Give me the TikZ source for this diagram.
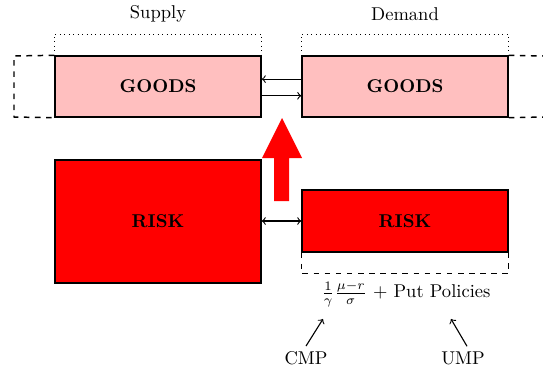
\documentclass[tikz,border=0pt]{standalone}
\usetikzlibrary{calc}
\begin{document}
\begin{tikzpicture}[x=0.54pt,y=-0.54pt,
  goodsbox/.style={draw=black,thick,fill=red!25,minimum width={206*0.54pt},minimum height={61*0.54pt},inner sep=0pt,font=\bfseries},
  riskbox/.style={draw=black,thick,fill=red,inner sep=0pt,font=\bfseries},
  lbl/.style={inner sep=1pt},
  conn/.style={->,semithick}]
\useasboundingbox (0,0) rectangle (543,372);
% top boxes
\node[goodsbox] (gs) at (158,86.5) {GOODS};
\node[goodsbox] (gd) at (405,86.5) {GOODS};
\node[lbl] (sup) at (158,14) {Supply};
\node[lbl] (dem) at (405,14) {Demand};
\draw[dotted] (gs.north west) -- ++(0,-21) -| (gs.north east);
\draw[dotted] (gd.north west) -- ++(0,-21) -| (gd.north east);
\draw[dashed,thick] (gs.north west) -- (14,56) -- (14,117) -- (gs.south west);
\draw[dashed,thick] (gd.north east) -- (543,56);
\draw[dashed,thick] (gd.south east) -- (543,117);
\draw[conn] ([yshift=4pt]gd.west) -- ([yshift=4pt]gs.east);
\draw[conn] ([yshift=-5pt]gs.east) -- ([yshift=-5pt]gd.west);
% big red arrow
\fill[red] (274,201) -- (274,158) -- (262,158) -- (282,118) -- (302,158) -- (289,158) -- (289,201) -- cycle;
% risk boxes
\node[riskbox,minimum width={206*0.54pt},minimum height={123*0.54pt}] (rs) at (158,221.5) {RISK};
\node[riskbox,minimum width={206*0.54pt},minimum height={62*0.54pt}] (rd) at (405,221) {RISK};
\draw[dashed,thick] (rd.south west) -- ++(0,21) -| (rd.south east);
\draw[<->,semithick] (rd.west -| rs.east) -- (rd.west);
% formula
\node[lbl] (form) at (406,294) {$\frac{1}{\gamma}\frac{\mu-r}{\sigma}$ + Put Policies};
\node[lbl] (cmp) at (306,358) {CMP};
\node[lbl] (ump) at (463,358) {UMP};
\coordinate (cmpt) at (323,319);
\coordinate (umpt) at (451,319);
\draw[conn] ($(cmp.north)+(0,-3)$) -- (cmpt);
\draw[conn] ($(ump.north)+(4,-3)$) -- (umpt);
\end{tikzpicture}
\end{document}
